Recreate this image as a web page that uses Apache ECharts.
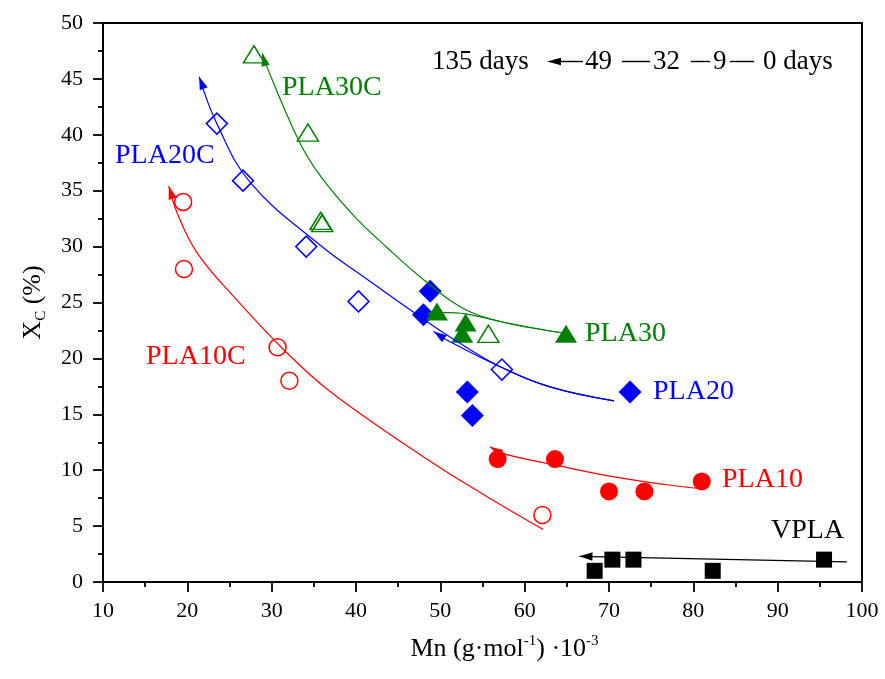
<!DOCTYPE html>
<html>
<head>
<meta charset="utf-8">
<script src="https://cdn.jsdelivr.net/npm/echarts@6/dist/echarts.min.js"></script>
<style>
  html, body { margin: 0; padding: 0; background: #ffffff; }
  #chart { width: 885px; height: 679px; }
</style>
</head>
<body>
<div id="chart"></div>
<script>
// Crystallinity (Xc) versus number-average molar mass (Mn) during degradation.
const SERIF = '"Liberation Serif", "Times New Roman", serif';
const RED = '#ff0000';
const BLUE = '#0000ff';
const GREEN = '#008000';
const BLACK = '#000000';

// Measured points: [Mn (g·mol-1)·10^-3, Xc (%)]
const pla10c = [[19.5, 34.0], [19.6, 28.0], [30.7, 21.0], [32.1, 18.0], [62.1, 6.0]];
const pla10  = [[56.8, 11.0], [63.6, 11.0], [70.0, 8.1], [74.2, 8.1], [81.0, 9.0]];
const pla20c = [[23.5, 41.0], [26.6, 35.9], [34.1, 30.0], [40.3, 25.1], [57.3, 19.0]];
const pla20  = [[48.8, 26.0], [48.0, 23.9], [53.2, 17.0], [53.8, 14.9], [72.5, 17.0]];
const pla30c = [[27.9, 47.2], [34.3, 40.2], [35.8, 32.3], [36.0, 32.1], [55.7, 22.2]];
const pla30  = [[49.6, 24.2], [53.0, 23.2], [52.6, 22.2], [64.9, 22.2]];
const vpla   = [[68.3, 1.0], [70.4, 2.0], [72.9, 2.0], [82.3, 1.0], [95.5, 2.0]];

// Trend curves, each listed starting from its arrow tip
const pla10cTrend = [[17.8, 35.4], [18.8, 33.0], [21.2, 29.4], [25.9, 25.2], [31.4, 20.8],
                     [37.0, 17.0], [48.8, 10.8], [55.4, 7.7], [62.2, 4.7]];
const pla10Trend  = [[55.9, 12.1], [57.1, 11.55], [63.7, 10.45], [70.6, 9.4], [76.9, 8.7], [81.0, 8.35]];
const pla20cTrend = [[21.4, 45.2], [23.5, 41.0], [27.5, 35.7], [35.8, 30.1], [41.1, 27.2],
                     [46.5, 24.3], [51.2, 21.9], [57.1, 19.25], [63.0, 17.45], [70.6, 16.2]];
const pla20Trend  = [[49.2, 22.4], [50.4, 21.8], [57.1, 19.25], [63.0, 17.45], [70.6, 16.2]];
const pla30cTrend = [[28.9, 47.3], [29.1, 46.7], [33.2, 39.5], [35.8, 36.3], [39.7, 32.8],
                     [43.7, 29.9], [47.6, 27.3], [52.4, 24.6], [57.1, 23.3], [63.0, 22.45], [64.8, 22.25]];
const pla30Trend  = [[48.4, 24.0], [50.8, 24.1], [52.8, 24.0], [57.1, 23.3], [63.0, 22.45], [64.8, 22.25]];
const vplaTrend   = [[66.5, 2.3], [98.2, 1.8]];

// Axis ranges
const xMin = 10, xMax = 100, xStep = 10;
const yMin = 0, yMax = 50, yStep = 5;

function points(name, data, symbol, size, color, filled) {
  return {
    name: name,
    type: 'scatter',
    data: data,
    symbol: symbol,
    symbolSize: size,
    z: 2,
    itemStyle: filled
      ? { color: color, borderWidth: 0, opacity: 1 }
      : { color: 'rgba(255,255,255,0)', borderColor: color, borderWidth: 1.5, opacity: 1 },
    emphasis: { disabled: true }
  };
}

function trend(name, data, color) {
  const line = {
    name: name + ' trend',
    type: 'line',
    data: data,
    showSymbol: false,
    smooth: 0.4,
    z: 3,
    lineStyle: { color: color, width: 1.2 },
    emphasis: { disabled: true },
    silent: true
  };
  // arrow head at the first point, pointing away from the second one
  const head = {
    name: name + ' arrow',
    type: 'custom',
    z: 4,
    silent: true,
    data: [[data[0][0], data[0][1], data[1][0], data[1][1]]],
    encode: { x: 0, y: 1 },
    renderItem: function (params, api) {
      const tip = api.coord([api.value(0), api.value(1)]);
      const back = api.coord([api.value(2), api.value(3)]);
      let dx = tip[0] - back[0], dy = tip[1] - back[1];
      const len = Math.sqrt(dx * dx + dy * dy) || 1;
      dx /= len; dy /= len;
      const L = 13, W = 4.2;
      const bx = tip[0] - dx * L, by = tip[1] - dy * L;
      return {
        type: 'polygon',
        shape: { points: [tip, [bx - dy * W, by + dx * W], [bx + dy * W, by - dx * W]] },
        style: { fill: color }
      };
    }
  };
  return [line, head];
}

function label(text, x, y, color, size) {
  return {
    type: 'text', x: x, y: y, z: 10,
    style: {
      text: text, fill: color, fontFamily: SERIF, fontSize: size || 28,
      align: 'left', verticalAlign: 'middle'
    }
  };
}

const chart = echarts.init(document.getElementById('chart'), null, { renderer: 'canvas' });

const option = {
  backgroundColor: '#ffffff',
  animation: false,
  grid: {
    left: 103, right: 23, top: 23, bottom: 97,
    outerBoundsMode: 'none',
    show: true, borderColor: BLACK, borderWidth: 2, backgroundColor: 'transparent'
  },
  xAxis: {
    type: 'value', min: xMin, max: xMax, interval: xStep,
    name: '{t|Mn (g·mol}{sup|-1}{t|) ·10}{sup|-3}',
    nameLocation: 'middle', nameGap: 52,
    nameTextStyle: {
      padding: [0, 0, 0, 44],
      rich: {
        t: { fontFamily: SERIF, fontSize: 26, color: BLACK, lineHeight: 30 },
        sup: { fontFamily: SERIF, fontSize: 15, color: BLACK, verticalAlign: 'top', lineHeight: 30 }
      }
    },
    axisLine: { lineStyle: { color: BLACK, width: 2 } },
    axisTick: { length: 10, lineStyle: { color: BLACK, width: 1.8 } },
    minorTick: { show: true, splitNumber: 2, length: 5, lineStyle: { color: BLACK, width: 1.8 } },
    splitLine: { show: false },
    axisLabel: { color: BLACK, fontFamily: SERIF, fontSize: 22, margin: 18 }
  },
  yAxis: {
    type: 'value', min: yMin, max: yMax, interval: yStep,
    name: '{t|X}{sub|C}{t| (%)}',
    nameLocation: 'middle', nameGap: 54,
    nameTextStyle: {
      rich: {
        t: { fontFamily: SERIF, fontSize: 26, color: BLACK, lineHeight: 32 },
        sub: { fontFamily: SERIF, fontSize: 15, color: BLACK, verticalAlign: 'bottom', lineHeight: 32 }
      }
    },
    axisLine: { lineStyle: { color: BLACK, width: 2 } },
    axisTick: { length: 10, lineStyle: { color: BLACK, width: 1.8 } },
    minorTick: { show: true, splitNumber: 2, length: 5, lineStyle: { color: BLACK, width: 1.8 } },
    splitLine: { show: false },
    axisLabel: { color: BLACK, fontFamily: SERIF, fontSize: 22, margin: 20 }
  },
  series: [].concat(
    trend('PLA10C', pla10cTrend, RED),
    trend('PLA10', pla10Trend, RED),
    trend('PLA20C', pla20cTrend, BLUE),
    trend('PLA20', pla20Trend, BLUE),
    trend('PLA30C', pla30cTrend, GREEN),
    trend('PLA30', pla30Trend, GREEN),
    trend('VPLA', vplaTrend, BLACK),
    [
      points('PLA10C', pla10c, 'circle', 17, RED, false),
      points('PLA10', pla10, 'circle', 18, RED, true),
      points('PLA20C', pla20c, 'diamond', 21, BLUE, false),
      points('PLA20', pla20, 'diamond', 23, BLUE, true),
      points('PLA30C', pla30c, 'triangle', [21, 17], GREEN, false),
      points('PLA30', pla30, 'triangle', [22, 18], GREEN, true),
      points('VPLA', vpla, 'rect', 16, BLACK, true)
    ]
  ),
  graphic: [
    label('PLA30C', 282, 88, GREEN),
    label('PLA20C', 115, 156, BLUE),
    label('PLA10C', 146, 357, RED),
    label('PLA30', 585, 334, GREEN),
    label('PLA20', 653, 392, BLUE),
    label('PLA10', 722, 480, RED),
    label('VPLA', 771, 531, BLACK),
    // time scale note: 135 days <- 49 - 32 - 9 - 0 days
    label('135 days', 432, 62, BLACK, 27),
    { type: 'polygon', z: 10, shape: { points: [[547, 61.5], [561, 57.8], [561, 65.2]] }, style: { fill: BLACK } },
    { type: 'line', z: 10, shape: { x1: 560, y1: 61.5, x2: 583, y2: 61.5 }, style: { stroke: BLACK, lineWidth: 1.4 } },
    label('49', 585, 62, BLACK, 27),
    { type: 'line', z: 10, shape: { x1: 622, y1: 61.5, x2: 650, y2: 61.5 }, style: { stroke: BLACK, lineWidth: 1.4 } },
    label('32', 653, 62, BLACK, 27),
    { type: 'line', z: 10, shape: { x1: 691, y1: 61.5, x2: 710, y2: 61.5 }, style: { stroke: BLACK, lineWidth: 1.4 } },
    label('9', 713, 62, BLACK, 27),
    { type: 'line', z: 10, shape: { x1: 730, y1: 61.5, x2: 754, y2: 61.5 }, style: { stroke: BLACK, lineWidth: 1.4 } },
    label('0 days', 763, 62, BLACK, 27)
  ]
};

chart.setOption(option);
</script>
</body>
</html>
